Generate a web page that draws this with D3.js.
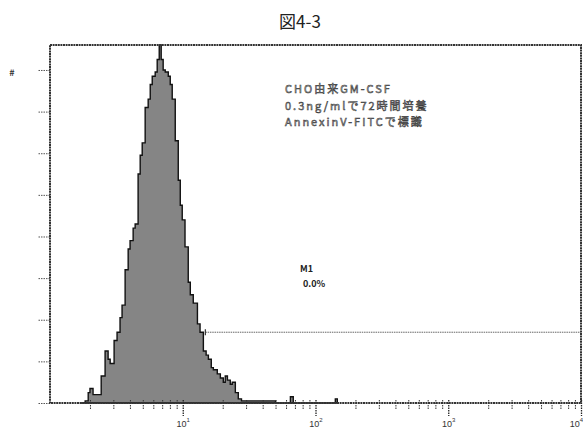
<!DOCTYPE html>
<html>
<head>
<meta charset="utf-8">
<script src="https://cdn.jsdelivr.net/npm/d3@7"></script>
<style>
  body { margin: 0; background: #fff; }
  svg { display: block; font-family: "Noto Sans CJK JP", "DejaVu Sans", sans-serif; }
</style>
</head>
<body>
<div id="chart"></div>
<script>
// 図4-3 - AnnexinV-FITC histogram (log fluorescence vs counts)

// fluorescence intensity (log axis) and event counts of the histogram outline
const INTENSITY = [1.68, 1.84, 1.94, 2.00, 2.11, 2.26, 2.43, 2.60, 2.74, 2.84, 3.04, 3.20, 3.37, 3.49,
  3.68, 3.88, 4.01, 4.23, 4.38, 4.61, 4.78, 4.95, 5.21, 5.49, 5.69, 5.89, 6.20, 6.42, 6.65, 6.88,
  7.12, 7.38, 7.78, 8.05, 8.33, 8.78, 9.25, 9.58, 9.91, 10.4, 11.0, 11.4, 12.0, 12.9, 13.5, 14.3,
  15.0, 15.6, 16.4, 17.0, 18.2, 19.2, 20.2, 20.9, 21.7, 22.8, 23.6, 24.9, 26.2, 27.7, 29.6, 32.3,
  37.1, 40.5, 45.7, 50.0, 64.7, 68.0, 141, 146];
const COUNTS = [0, 1, 5, 7, 4, 4, 13, 25, 21, 19, 30, 34, 41, 47,
  64, 74, 78, 84, 86, 110, 119, 125, 142, 146, 153, 157, 159, 165, 172, 165,
  160, 159, 157, 153, 146, 126, 107, 95, 88, 75, 58, 52, 48, 38, 34, 25,
  23, 21, 17, 16, 14, 12, 10, 13, 11, 9, 10, 5, 2, 1, 1, 1,
  1, 1, 1, 0, 3, 0, 2, 0];

const X_DOMAIN = [1, 10000];
const Y_DOMAIN = [0, 172];
const Y_TICKS = [0, 20, 40, 60, 80, 100, 120, 140, 160];
const X_MAJOR = [10, 100, 1000, 10000];
const X_LABELS = ["1", "2", "3", "4"]; // exponents of 10

// marker M1
const GATE = [14.8, 10000];
const GATE_LEVEL = 34;
const GATE_LABEL = "M1";
const GATE_PCT = "0.0%";

const TITLE = "図4-3";
const NOTE_LINES = ["CHO由来GM-CSF", "0.3ng/mlで72時間培養", "AnnexinV-FITCで標識"];

const W = 583, H = 430;
const margin = { top: 45, right: 2, bottom: 27, left: 50 };
const width = W - margin.left - margin.right;
const height = H - margin.top - margin.bottom;

const root = d3.select("#chart").append("svg")
  .attr("width", W)
  .attr("height", H);

root.append("text")
  .attr("x", 300)
  .attr("y", 28)
  .attr("text-anchor", "middle")
  .style("font-size", "17px")
  .style("fill", "#222")
  .text(TITLE);

root.append("text")
  .attr("x", 12)
  .attr("y", 76)
  .attr("text-anchor", "middle")
  .style("font-size", "9px")
  .style("font-weight", "bold")
  .style("fill", "#333")
  .text("#");

const svg = root.append("g")
  .attr("transform", `translate(${margin.left},${margin.top})`);

const x = d3.scaleLog().domain(X_DOMAIN).range([0, width]);
const y = d3.scaleLinear().domain(Y_DOMAIN).range([height, 0]);

const hist = INTENSITY.map((v, i) => ({ v, c: COUNTS[i] }));

// histogram
const area = d3.area()
  .x(d => x(d.v))
  .y0(height)
  .y1(d => y(d.c))
  .curve(d3.curveStepAfter);

svg.append("path")
  .datum(hist)
  .attr("d", area)
  .style("fill", "#858585")
  .style("stroke", "#111")
  .style("stroke-width", 1.4);

// axes
const minor = [];
for (let e = 0; e < 4; e++) {
  for (let k = 2; k <= 9; k++) minor.push(k * Math.pow(10, e));
}

svg.append("g")
  .attr("transform", `translate(0,${height})`)
  .call(d3.axisBottom(x).tickValues(minor).tickSize(7).tickFormat(""))
  .call(g => g.select(".domain").remove())
  .call(g => g.selectAll("line").attr("stroke", "#333").attr("y1", -3).attr("stroke-dasharray", "1.5,1"));

const xMajor = svg.append("g")
  .attr("transform", `translate(0,${height})`)
  .call(d3.axisBottom(x).tickValues(X_MAJOR).tickSize(13).tickFormat(""))
  .call(g => g.select(".domain").remove())
  .call(g => g.selectAll("line").attr("stroke", "#222").attr("stroke-width", 1.3).attr("y1", -3).attr("stroke-dasharray", "1.5,1"));

xMajor.selectAll(".tick")
  .append("text")
  .attr("y", 24)
  .attr("x", (d, i) => i === X_MAJOR.length - 1 ? -5 : 0)
  .attr("text-anchor", "middle")
  .style("font-size", "9px")
  .style("fill", "#333")
  .each(function(d, i) {
    const t = d3.select(this);
    t.append("tspan").text("10");
    t.append("tspan").attr("dy", -5).style("font-size", "6px").text(X_LABELS[i]);
  });

svg.append("g")
  .call(d3.axisLeft(y).tickValues(Y_TICKS).tickSize(12).tickFormat(""))
  .call(g => g.select(".domain").remove())
  .call(g => g.selectAll("line").attr("stroke", "#555").attr("stroke-dasharray", "1.5,1"));

// frame
svg.append("rect")
  .attr("width", width)
  .attr("height", height)
  .style("fill", "none")
  .style("stroke", "#333")
  .style("stroke-width", 2)
  .style("stroke-dasharray", "2,0.6");

// marker M1
svg.append("line")
  .attr("x1", x(GATE[0]))
  .attr("x2", x(GATE[1]))
  .attr("y1", y(GATE_LEVEL))
  .attr("y2", y(GATE_LEVEL))
  .style("stroke", "#666")
  .style("stroke-width", 1)
  .style("stroke-dasharray", "1.5,0.8");

svg.append("line")
  .attr("x1", x(GATE[0]))
  .attr("x2", x(GATE[0]))
  .attr("y1", y(GATE_LEVEL) - 3)
  .attr("y2", y(GATE_LEVEL) + 3)
  .style("stroke", "#333")
  .style("stroke-width", 1.2);

svg.append("text")
  .attr("x", 250)
  .attr("y", 227)
  .style("font-size", "9px")
  .style("font-weight", "bold")
  .style("fill", "#222")
  .text(GATE_LABEL);

svg.append("text")
  .attr("x", 253)
  .attr("y", 242)
  .style("font-size", "9px")
  .style("font-weight", "bold")
  .style("fill", "#222")
  .text(GATE_PCT);

// annotation
svg.append("g")
  .selectAll("text")
  .data(NOTE_LINES)
  .enter()
  .append("text")
  .attr("x", 235)
  .attr("y", (d, i) => 48 + i * 16.5)
  .style("font-size", "11px")
  .style("letter-spacing", "2px")
  .style("fill", "#bbb")
  .style("stroke", "#333")
  .style("stroke-width", 0.5)
  .text(d => d);
</script>
</body>
</html>
